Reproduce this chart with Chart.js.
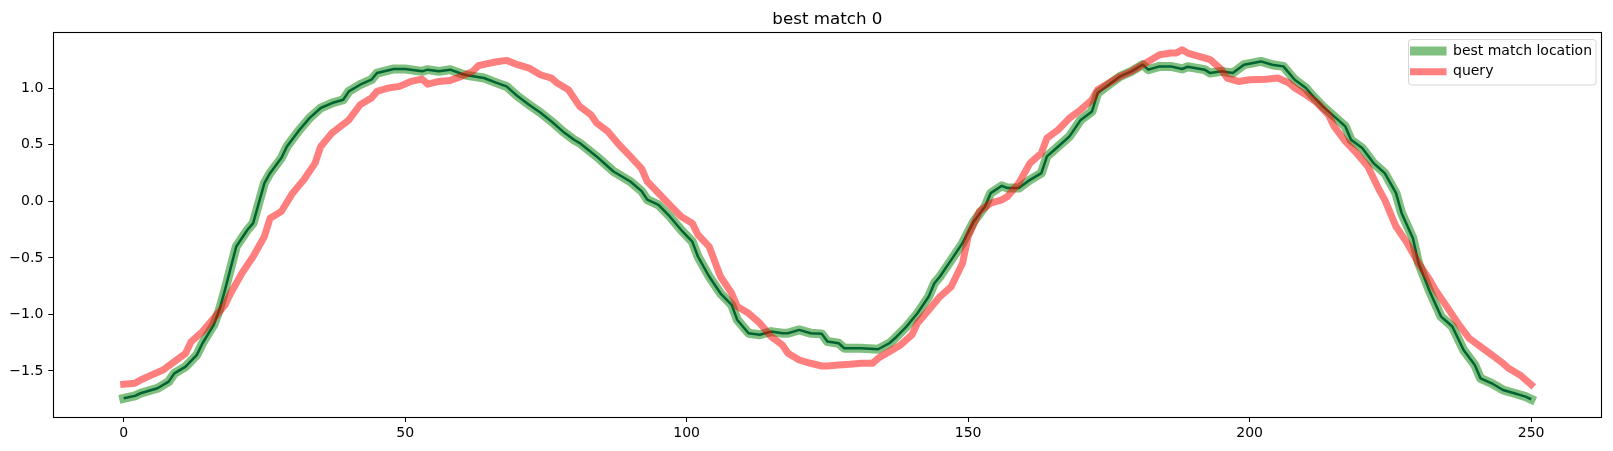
<!DOCTYPE html>
<html>
<head>
<meta charset="utf-8">
<script src="https://cdn.jsdelivr.net/npm/chart.js@4.4.1/dist/chart.umd.min.js"></script>
<style>
  html, body { margin: 0; padding: 0; background: #fff; }
  #wrap { width: 1613px; height: 451px; }
</style>
</head>
<body>
<div id="wrap"><canvas id="matchChart" width="1613" height="451"></canvas></div>
<script>
// values
const titleText = 'best match 0';
const matchLabel = 'best match location';
const queryLabel = 'query';

const xTicks = [0, 50, 100, 150, 200, 250];
const yTicks = [-1.5, -1.0, -0.5, 0.0, 0.5, 1.0];

const matchX = [0, 2, 3, 6, 8, 9, 11, 13, 14, 16, 17, 18, 19, 20, 22, 23, 24, 25, 26, 28, 29, 31, 33, 35, 37, 39, 40, 42, 44, 45,
  48, 50, 53, 54, 56, 58, 60, 61, 64, 66, 68, 70, 72, 74, 76, 78, 80, 81, 84, 86, 87, 90, 92, 93, 95, 97, 99, 101, 102, 104,
  106, 108, 109, 111, 113, 115, 117, 118, 120, 122, 124, 125, 127, 128, 131, 134, 136, 137, 139, 141, 143, 144, 145, 147, 149,
  151, 153, 154, 156, 157, 159, 161, 163, 164, 166, 168, 170, 172, 173, 175, 177, 179, 181, 182, 184, 186, 188, 189, 192, 193,
  195, 197, 199, 202, 204, 206, 208, 210, 211, 213, 215, 217, 218, 220, 222, 224, 226, 227, 229, 230, 232, 234, 235, 236, 238,
  240, 241, 243, 245, 247, 249, 250];
const matchY = [-1.742, -1.72, -1.697, -1.653, -1.594, -1.521, -1.462, -1.358, -1.255, -1.093, -0.96, -0.783, -0.591, -0.40,
  -0.252, -0.193, -0.016, 0.161, 0.249, 0.382, 0.485, 0.618, 0.736, 0.825, 0.869, 0.898, 0.972, 1.031, 1.075, 1.134,
  1.17, 1.17, 1.149, 1.164, 1.149, 1.164, 1.128, 1.114, 1.09, 1.052, 1.016, 0.928, 0.854, 0.786, 0.706, 0.618, 0.544, 0.515,
  0.397, 0.308, 0.264, 0.175, 0.09, 0.015, -0.031, -0.134, -0.252, -0.356, -0.488, -0.665,
  -0.813, -0.916, -1.049, -1.166, -1.18, -1.152, -1.166, -1.166, -1.137, -1.166, -1.172, -1.24, -1.255, -1.299, -1.299,
  -1.308, -1.255, -1.211, -1.11, -0.99, -0.842, -0.724, -0.665, -0.518, -0.37,
  -0.178, -0.046, 0.072, 0.137, 0.117, 0.117, 0.19, 0.249, 0.397, 0.485, 0.574, 0.72, 0.795, 0.957, 1.031, 1.105, 1.149,
  1.208, 1.164, 1.193, 1.193, 1.17, 1.19, 1.164, 1.134,
  1.149, 1.134, 1.208, 1.237, 1.208, 1.193, 1.075, 1.002, 0.943, 0.839, 0.751, 0.662, 0.544, 0.471, 0.338, 0.249, 0.072,
  -0.105, -0.326, -0.547, -0.798, -1.019, -1.063, -1.107, -1.314,
  -1.447, -1.565, -1.609, -1.668, -1.697, -1.727, -1.75];

const queryX = [0, 2, 3, 5, 7, 9, 11, 12, 14, 16, 18, 19, 21, 23, 25, 26, 28, 30, 32, 34, 35, 37, 40, 42, 44, 45, 47, 49,
  51, 53, 54, 56, 58, 60, 62, 63, 66, 68, 70, 72, 74, 76, 77, 79, 81, 83, 84, 86, 88, 90, 92, 93, 95, 97, 99, 101, 102, 104,
  106, 108, 109, 111, 113, 115, 117, 118, 120, 122, 124, 125, 127, 129, 131, 133, 134, 136, 138, 140, 141, 143, 145, 147,
  149, 150, 152, 154, 156, 157, 159, 161, 163, 164, 166, 168, 170, 172, 173, 175, 177, 179, 181, 182, 184, 186, 187, 188,
  189, 191, 193, 195, 196, 198, 200, 203, 205, 207, 208, 210, 212, 214, 215, 217, 219, 221, 223, 224, 226, 228, 230, 232,
  233, 235, 237, 239, 241, 243, 245, 246, 248, 250];
const queryY = [-1.618, -1.609, -1.58, -1.535, -1.491, -1.418, -1.344, -1.24, -1.152, -1.035, -0.916, -0.813, -0.636, -0.488,
  -0.311, -0.149, -0.09, 0.072, 0.19, 0.338, 0.485, 0.603, 0.72, 0.854, 0.913, 0.972, 1.002, 1.016,
  1.06, 1.08, 1.036, 1.06, 1.069, 1.105, 1.149, 1.199, 1.232, 1.246, 1.208, 1.178, 1.119, 1.09, 1.046, 0.987, 0.839, 0.765,
  0.692, 0.618, 0.5, 0.397, 0.29, 0.175, 0.072, -0.031, -0.134, -0.193, -0.296, -0.4,
  -0.665, -0.813, -0.93, -0.99, -1.078, -1.196, -1.27, -1.344, -1.403, -1.432, -1.456, -1.456, -1.447, -1.441, -1.432, -1.432,
  -1.388, -1.329, -1.27, -1.181, -1.078, -0.96, -0.842, -0.754,
  -0.547, -0.311, -0.09, -0.016, 0.013, 0.043, 0.161, 0.338, 0.426, 0.559, 0.633, 0.736, 0.81, 0.898, 0.987, 1.046, 1.105,
  1.149, 1.208, 1.237, 1.296, 1.311, 1.311, 1.34,
  1.311, 1.281, 1.252, 1.164, 1.09, 1.06, 1.075, 1.08, 1.09, 1.046, 1.002, 0.943, 0.869, 0.765, 0.662, 0.53, 0.426, 0.308,
  0.102, 0.013, -0.223, -0.37, -0.547, -0.695,
  -0.783, -0.93, -1.078, -1.211, -1.285, -1.358, -1.432, -1.476, -1.535, -1.62];

const toPoints = (xs, ys) => xs.map((x, i) => ({ x: x, y: ys[i] }));
const minusFmt = v => Number(v).toFixed(1).replace('-', '\u2212');

Chart.defaults.font.family = 'DejaVu Sans';
Chart.defaults.font.size = 14;
Chart.defaults.color = '#000';

// frame, title and legend drawn the matplotlib way
const decorPlugin = {
  id: 'decor',
  afterDraw(chart) {
    const ctx = chart.ctx;
    const a = chart.chartArea;
    ctx.save();
    // axes box
    ctx.strokeStyle = '#000';
    ctx.lineWidth = 1.1;
    ctx.strokeRect(Math.round(a.left) + 0.5, Math.round(a.top) + 0.5,
      Math.round(a.right - a.left), Math.round(a.bottom - a.top));

    // title
    ctx.fillStyle = '#000';
    ctx.font = '16.7px "DejaVu Sans"';
    ctx.textAlign = 'center';
    ctx.textBaseline = 'alphabetic';
    ctx.fillText(titleText, (a.left + a.right) / 2, 23.5);

    // legend
    const lx = a.right - 193, ly = a.top + 7.5, lw = 187.5, lh = 45.5;
    ctx.beginPath();
    ctx.roundRect(lx, ly, lw, lh, 3);
    ctx.fillStyle = 'rgba(255,255,255,0.8)';
    ctx.fill();
    ctx.strokeStyle = 'rgba(204,204,204,0.8)';
    ctx.lineWidth = 1;
    ctx.stroke();

    const rows = [
      { label: matchLabel, color: 'rgba(0,128,0,0.5)', width: 9 },
      { label: queryLabel, color: 'rgba(255,0,0,0.5)', width: 7 }
    ];
    rows.forEach((r, i) => {
      const cy = ly + 11.5 + i * 20.7;
      ctx.beginPath();
      ctx.moveTo(lx + 1.5, cy);
      ctx.lineTo(lx + 38, cy);
      ctx.strokeStyle = r.color;
      ctx.lineWidth = r.width;
      ctx.lineCap = 'butt';
      ctx.stroke();
      ctx.fillStyle = '#000';
      ctx.font = '14px "DejaVu Sans"';
      ctx.textAlign = 'left';
      ctx.textBaseline = 'middle';
      ctx.fillText(r.label, lx + 44.5, cy);
    });
    ctx.restore();
  }
};

const ctx = document.getElementById('matchChart').getContext('2d');
const matchChart = new Chart(ctx, {
  type: 'line',
  data: {
    datasets: [
      {
        label: queryLabel,
        data: toPoints(queryX, queryY),
        borderColor: 'rgba(255,0,0,0.5)',
        borderWidth: 7,
        borderCapStyle: 'square',
        borderJoinStyle: 'round',
        pointRadius: 0,
        tension: 0
      },
      {
        label: '',
        data: toPoints(matchX, matchY),
        borderColor: 'rgb(0,100,50)',
        borderWidth: 2.5,
        borderJoinStyle: 'round',
        pointRadius: 0,
        tension: 0
      },
      {
        label: matchLabel,
        data: toPoints(matchX, matchY),
        borderColor: 'rgba(0,128,0,0.5)',
        borderWidth: 9,
        borderCapStyle: 'square',
        borderJoinStyle: 'round',
        pointRadius: 0,
        tension: 0
      }
    ]
  },
  options: {
    responsive: false,
    animation: false,
    devicePixelRatio: 1,
    layout: {
      padding: { top: 32, right: 11.5, bottom: 0, left: 0 }
    },
    plugins: {
      legend: { display: false },
      title: { display: false },
      tooltip: { enabled: false }
    },
    scales: {
      x: {
        type: 'linear',
        min: -12.5,
        max: 262.5,
        afterBuildTicks: scale => { scale.ticks = xTicks.map(v => ({ value: v })); },
        afterFit: scale => { scale.height = 34; },
        grid: { drawOnChartArea: false, tickLength: 5, tickColor: '#000', tickWidth: 1 },
        border: { display: true, color: '#000', width: 1 },
        ticks: { padding: 3, maxRotation: 0, autoSkip: false, color: '#000' }
      },
      y: {
        min: -1.907,
        max: 1.497,
        afterBuildTicks: scale => { scale.ticks = yTicks.map(v => ({ value: v })); },
        afterFit: scale => { scale.width = 53.3; },
        grid: { drawOnChartArea: false, tickLength: 5, tickColor: '#000', tickWidth: 1 },
        border: { display: true, color: '#000', width: 1 },
        ticks: { padding: 5, autoSkip: false, color: '#000', callback: v => minusFmt(v) }
      }
    }
  },
  plugins: [decorPlugin]
});
</script>
</body>
</html>
